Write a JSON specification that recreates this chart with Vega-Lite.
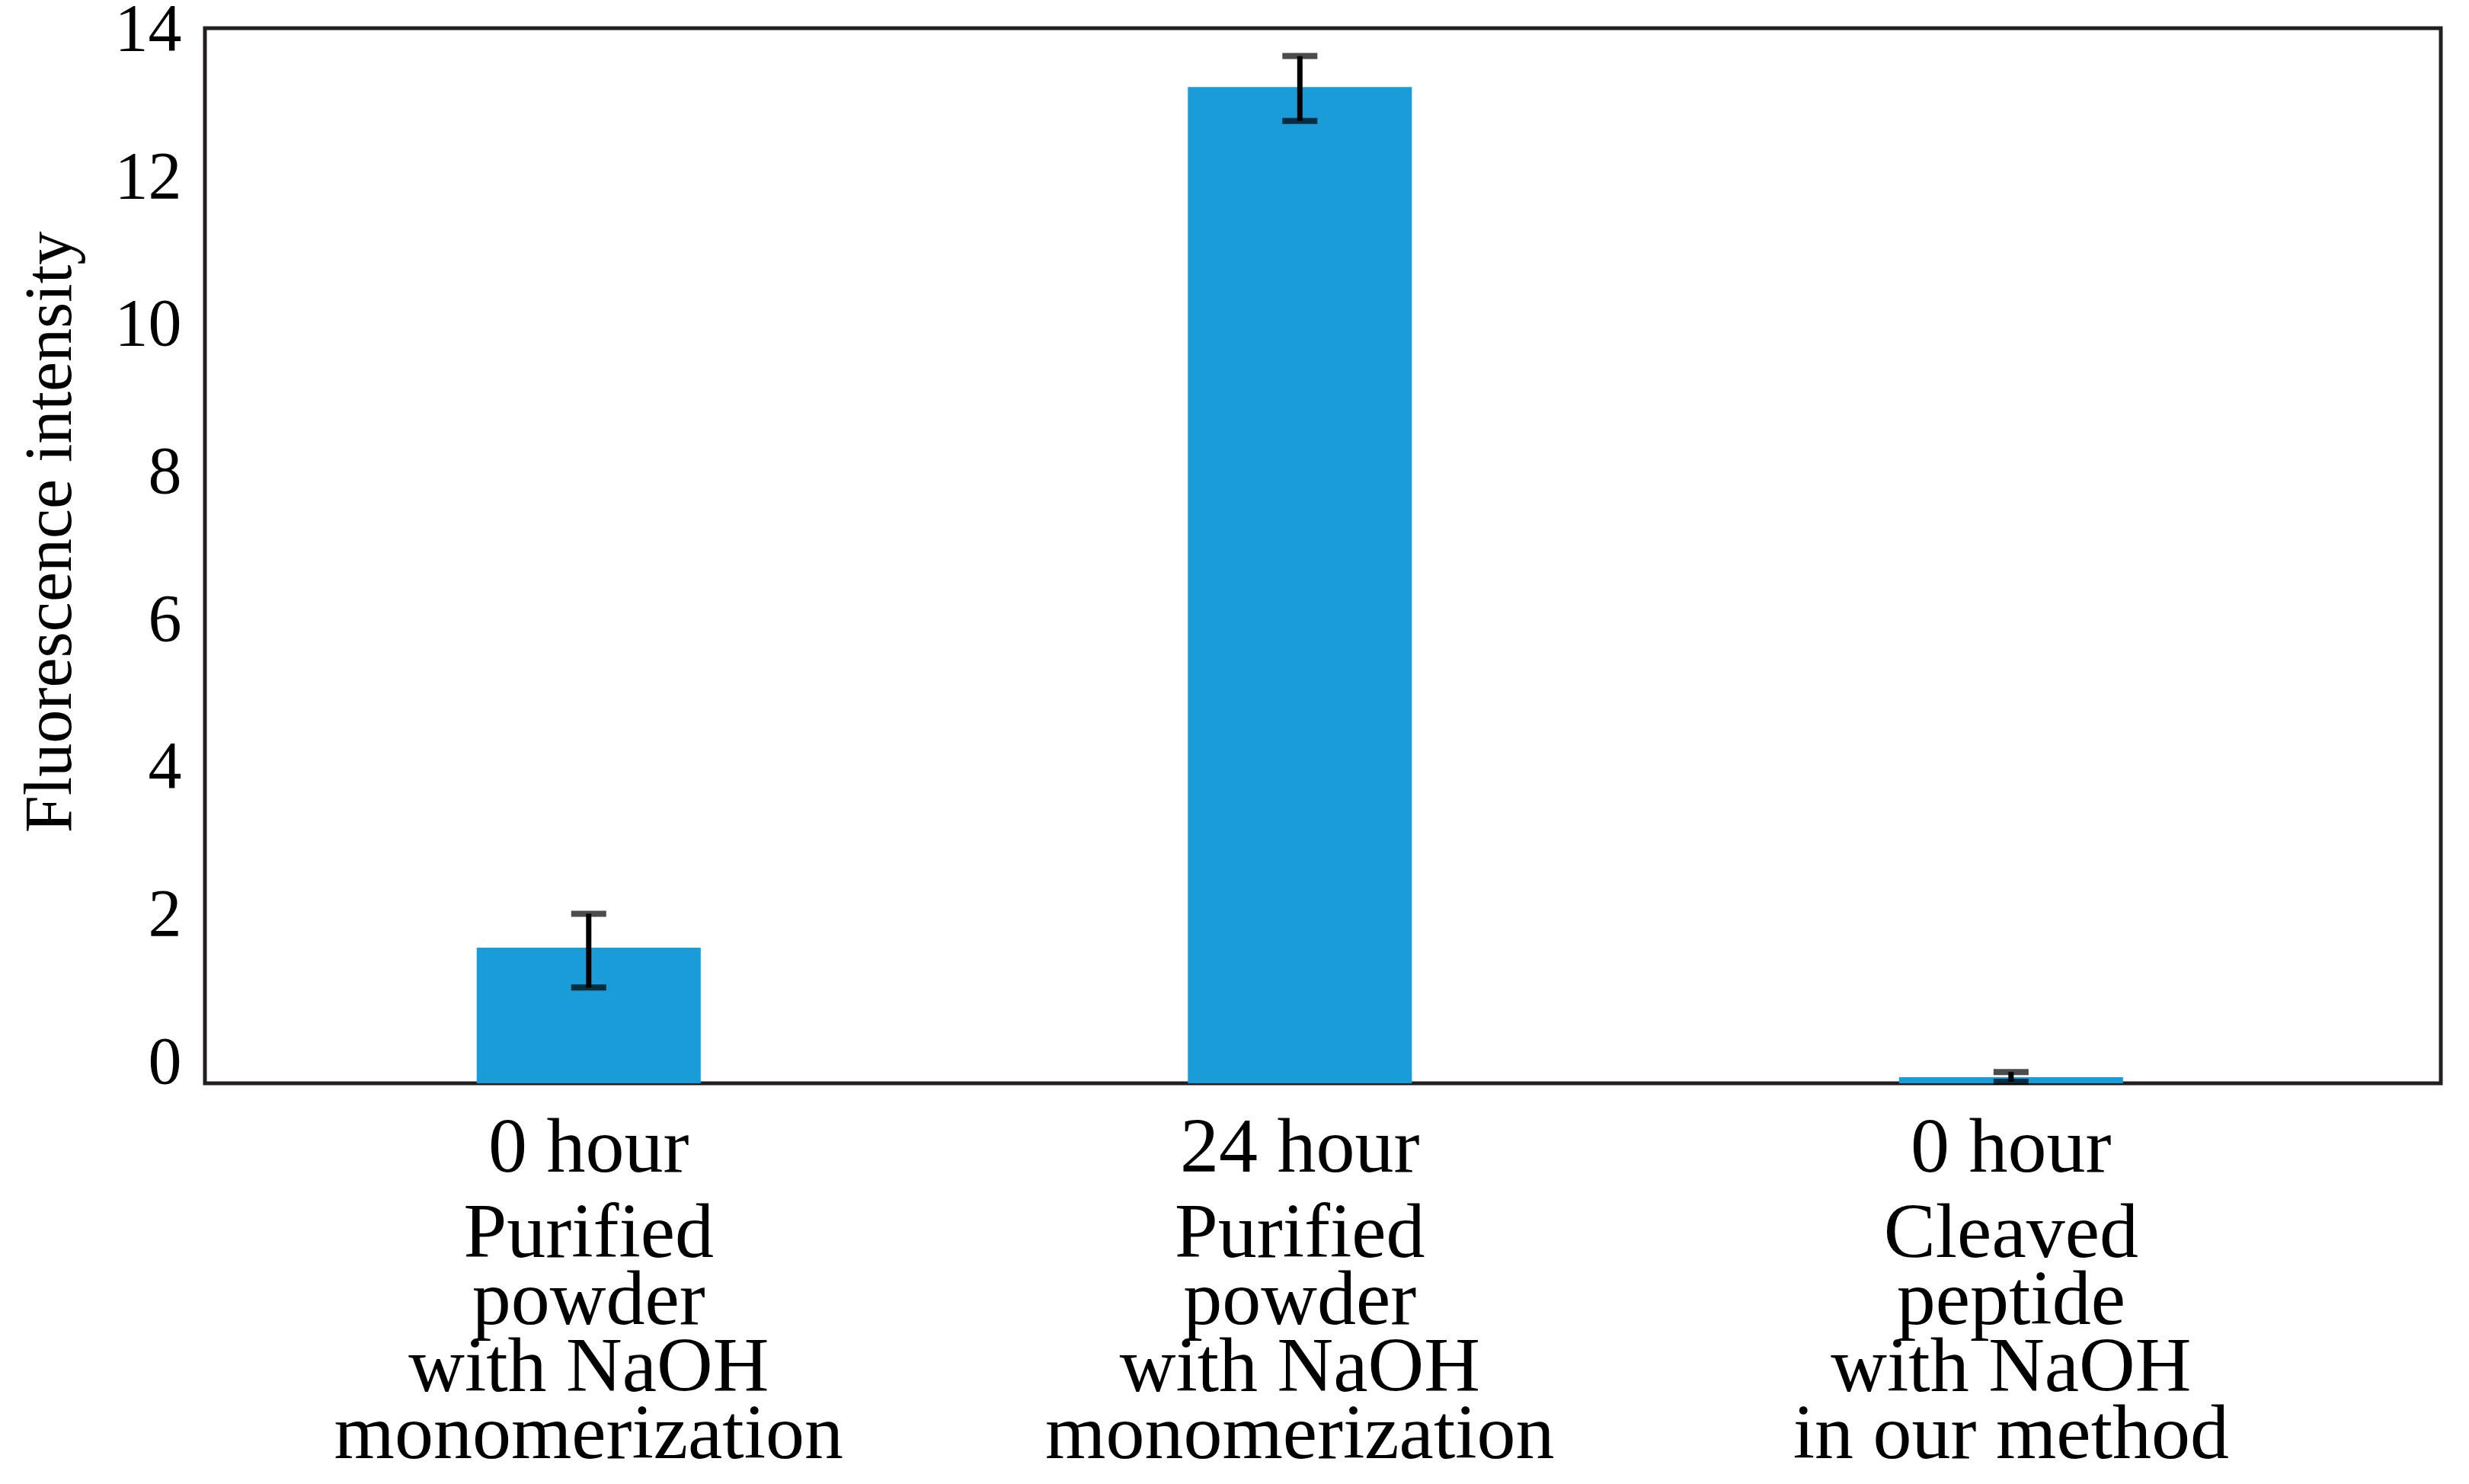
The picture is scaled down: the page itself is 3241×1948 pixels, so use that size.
{
  "$schema": "https://vega.github.io/schema/vega-lite/v6.json",
  "width": 2935,
  "height": 1385,
  "autosize": "none",
  "padding": {"left": 269, "top": 37, "right": 37, "bottom": 526},
  "background": "white",
  "config": {
    "view": {"stroke": "#231f20", "strokeWidth": 5},
    "font": "Liberation Serif"
  },
  "data": {
    "values": [
      {"cond": "0 hour|Purified|powder|with NaOH|monomerization", "value": 1.8, "low": 1.27, "high": 2.25},
      {"cond": "24 hour|Purified|powder|with NaOH|monomerization", "value": 13.22, "low": 12.77, "high": 13.63},
      {"cond": "0 hour|Cleaved|peptide|with NaOH|in our method", "value": 0.08, "low": 0.02, "high": 0.15}
    ]
  },
  "resolve": {"axis": {"x": "independent"}},
  "layer": [
    {
      "mark": {"type": "bar", "color": "#199cd8"},
      "encoding": {
        "x": {
          "field": "cond",
          "type": "nominal",
          "sort": null,
          "scale": {"paddingInner": 0.685, "paddingOuter": 0.4145, "align": 0.461},
          "axis": {
            "orient": "bottom",
            "offset": 0,
            "title": null,
            "labelExpr": "split(datum.label, '|')[0]",
            "labelAngle": 0,
            "labelFontSize": 102,
            "labelPadding": 34,
            "labelColor": "#000000",
            "labelLimit": 2000,
            "ticks": false,
            "domain": false,
            "grid": false
          }
        },
        "y": {
          "field": "value",
          "type": "quantitative",
          "scale": {"domain": [0, 14], "nice": false},
          "axis": {
            "title": "Fluorescence intensity",
            "titleFontSize": 88,
            "titleFontWeight": "normal",
            "titleColor": "#000000",
            "titlePadding": 40,
            "titleY": 661,
            "values": [0, 2, 4, 6, 8, 10, 12, 14],
            "format": "d",
            "labelFontSize": 88,
            "labelColor": "#000000",
            "labelPadding": 31,
            "labelOffset": {"condition": {"test": "datum.value < 0", "value": 0}, "expr": "-27 + 2.1 * datum.value"},
            "labelFlush": false,
            "labelOverlap": false,
            "ticks": false,
            "domain": false,
            "grid": false
          }
        }
      }
    },
    {
      "mark": {"type": "rule", "color": "#000000", "strokeWidth": 7},
      "encoding": {
        "x": {
          "field": "cond",
          "type": "nominal",
          "sort": null,
          "axis": {
            "orient": "bottom",
            "offset": 0,
            "title": null,
            "labelExpr": "slice(split(datum.label, '|'), 1)",
            "labelAngle": 0,
            "labelFontSize": 102,
            "labelLineHeight": 88,
            "labelPadding": 146,
            "labelColor": "#000000",
            "labelLimit": 2000,
            "ticks": false,
            "domain": false,
            "grid": false
          }
        },
        "y": {"field": "low", "type": "quantitative"},
        "y2": {"field": "high"}
      }
    },
    {
      "mark": {"type": "tick", "color": "#000000", "size": 46, "thickness": 8},
      "encoding": {
        "x": {"field": "cond", "type": "nominal", "sort": null, "axis": null},
        "y": {"field": "low", "type": "quantitative"}
      }
    },
    {
      "mark": {"type": "tick", "color": "#000000", "size": 46, "thickness": 8},
      "encoding": {
        "x": {"field": "cond", "type": "nominal", "sort": null, "axis": null},
        "y": {"field": "high", "type": "quantitative"}
      }
    }
  ]
}
